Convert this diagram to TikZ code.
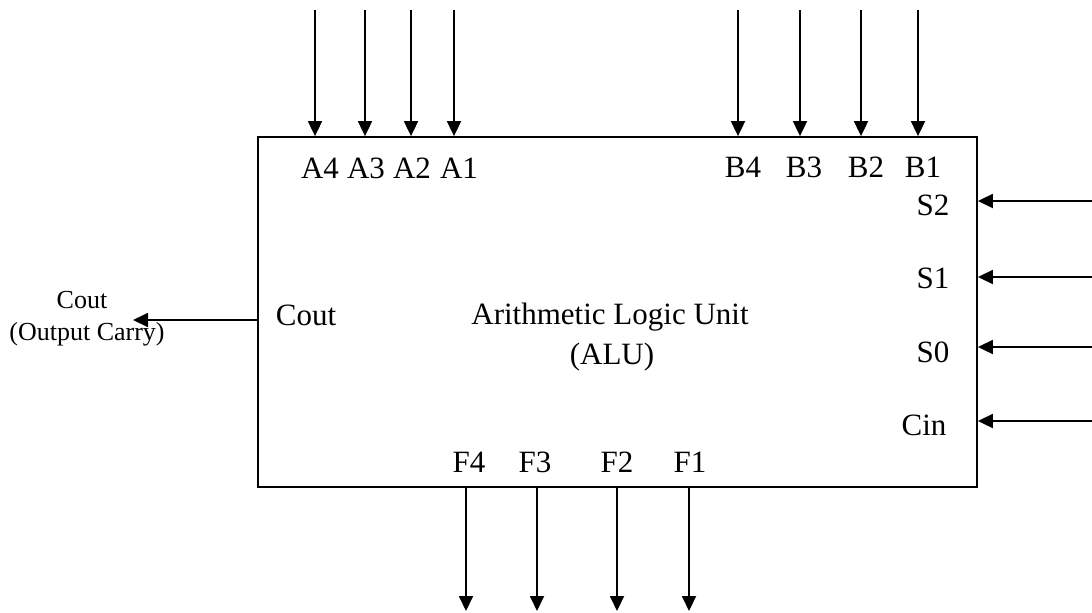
\documentclass[tikz,border=0pt]{standalone}
\usepackage{fontspec}
\setmainfont{Liberation Serif}
\usetikzlibrary{arrows.meta}
\begin{document}
\begin{tikzpicture}[x=0.5pt,y=-0.5pt,
  wire/.style={line width=0.9pt,-{Triangle[length=7.5pt,width=7pt]}},
  lbl/.style={anchor=base,inner sep=0pt,font=\fontsize{15.5}{18}\selectfont},
  smalllbl/.style={anchor=base,inner sep=0pt,font=\fontsize{13}{15}\selectfont}]
\useasboundingbox (0,0) rectangle (1092,612);
\node[draw,line width=0.9pt,minimum width=359.5pt,minimum height=175pt,inner sep=0pt] (alu) at (617.5,312) {};
% inputs A
\foreach \n/\x in {a4/315,a3/365,a2/411,a1/454,b4/738,b3/800,b2/861,b1/918}{
  \coordinate (\n s) at (\x,10);
  \draw[wire] (\n s) -- (\n s |- alu.north);
}
% right inputs
\foreach \n/\y in {s2/201,s1/277,s0/347,cin/421}{
  \coordinate (\n s) at (1092,\y);
  \draw[wire] (\n s) -- (\n s -| alu.east);
}
% outputs F
\foreach \n/\x in {f4/466,f3/537,f2/617,f1/689}{
  \coordinate (\n e) at (\x,611);
  \draw[wire] (\n e |- alu.south) -- (\n e);
}
% carry out
\coordinate (coute) at (133,320);
\draw[wire] (coute -| alu.west) -- (coute);
% labels
\node[lbl] (la4) at (320,178) {A4};
\node[lbl] (la3) at (366,178) {A3};
\node[lbl] (la2) at (412,178) {A2};
\node[lbl] (la1) at (459,178) {A1};
\node[lbl] (lb4) at (743,177) {B4};
\node[lbl] (lb3) at (804,177) {B3};
\node[lbl] (lb2) at (866,177) {B2};
\node[lbl] (lb1) at (923,177) {B1};
\node[lbl] (ls2) at (933,215) {S2};
\node[lbl] (ls1) at (933,288) {S1};
\node[lbl] (ls0) at (933,362) {S0};
\node[lbl] (lcin) at (924,435) {Cin};
\node[lbl] (lf4) at (469,472) {F4};
\node[lbl] (lf3) at (535,472) {F3};
\node[lbl] (lf2) at (617,472) {F2};
\node[lbl] (lf1) at (690,472) {F1};
\node[lbl] (lcout) at (306,325) {Cout};
\node[lbl] (title1) at (610,324) {Arithmetic Logic Unit};
\node[lbl] (title2) at (612,364) {(ALU)};
\node[smalllbl] (ocout) at (82,308) {Cout};
\node[smalllbl] (ocarry) at (87,340) {(Output Carry)};
\end{tikzpicture}
\end{document}
